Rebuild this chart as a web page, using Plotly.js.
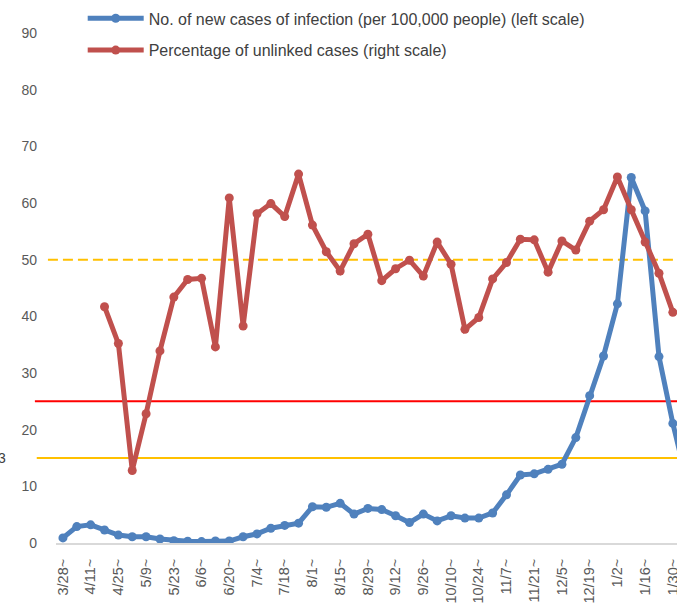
<!DOCTYPE html>
<html>
<head>
<meta charset="utf-8">
<script src="https://cdn.plot.ly/plotly-3.0.1.min.js"></script>
<style>
  html, body { margin: 0; padding: 0; background: #fff; }
  #chart { width: 677px; height: 603px; }
</style>
</head>
<body>
<div id="chart"></div>
<script>
// weekly periods (start date of each week)
const weeks = ['3/28~', '4/4~', '4/11~', '4/18~', '4/25~', '5/2~', '5/9~', '5/16~', '5/23~', '5/30~',
    '6/6~', '6/13~', '6/20~', '6/27~', '7/4~', '7/11~', '7/18~', '7/25~', '8/1~', '8/8~',
    '8/15~', '8/22~', '8/29~', '9/5~', '9/12~', '9/19~', '9/26~', '10/3~', '10/10~', '10/17~',
    '10/24~', '10/31~', '11/7~', '11/14~', '11/21~', '11/28~', '12/5~', '12/12~', '12/19~', '12/26~',
    '1/2~', '1/9~', '1/16~', '1/23~', '1/30~', '2/6~'];

// only every other week gets a label
const tickLabels = ['3/28~', '4/11~', '4/25~', '5/9~', '5/23~', '6/6~', '6/20~', '7/4~', '7/18~', '8/1~',
    '8/15~', '8/29~', '9/12~', '9/26~', '10/10~', '10/24~', '11/7~', '11/21~', '12/5~', '12/19~',
    '1/2~', '1/16~', '1/30~'];

// new cases per 100,000 people (left scale)
const newCases = [0.9, 2.9, 3.2, 2.3, 1.4, 1.1, 1.1, 0.7, 0.4, 0.3,
    0.25, 0.35, 0.35, 1.1, 1.6, 2.6, 3.1, 3.5, 6.4, 6.3,
    7.0, 5.1, 6.1, 5.9, 4.8, 3.6, 5.1, 3.9, 4.8, 4.4,
    4.4, 5.3, 8.5, 12.0, 12.2, 13.0, 13.9, 18.6, 26.0, 33.0,
    42.2, 64.5, 58.6, 32.9, 21.1, 11];

// percentage of unlinked cases (right scale)
const unlinkedPct = [null, null, null, 41.7, 35.2, 12.8, 22.8, 33.9, 43.4, 46.5,
    46.7, 34.6, 60.9, 38.3, 58.1, 59.9, 57.6, 65.1, 56.1, 51.4,
    48.0, 52.8, 54.5, 46.3, 48.4, 49.9, 47.1, 53.1, 49.2, 37.7,
    39.8, 46.6, 49.5, 53.6, 53.5, 47.8, 53.3, 51.7, 56.8, 58.8,
    64.6, 58.8, 53.1, 47.6, 40.7, null];

// reference levels
const dashedLevel = 50;
const redLevel = 25;
const orangeLevel = 15;

const fontFamily = '"Liberation Sans", Arial, sans-serif';

const data = [
    {
        x: weeks,
        y: newCases,
        name: 'No. of new cases of infection (per 100,000 people) (left scale)',
        type: 'scatter',
        mode: 'lines+markers',
        line: { color: '#4F81BD', width: 5 },
        marker: { color: '#4F81BD', size: 9 },
        cliponaxis: true
    },
    {
        x: weeks,
        y: unlinkedPct,
        name: 'Percentage of unlinked cases (right scale)',
        type: 'scatter',
        mode: 'lines+markers',
        line: { color: '#C0504D', width: 5 },
        marker: { color: '#C0504D', size: 9 },
        cliponaxis: true,
        legendgroup: 'b'
    }
];

const hline = (level, color, dash, x0) => ({
    type: 'line',
    xref: 'paper', yref: 'y',
    x0: x0, x1: 1,
    y0: level, y1: level,
    line: { color: color, width: 2, dash: dash },
    layer: 'below'
});

const layout = {
    width: 677,
    height: 603,
    margin: { l: 56, r: 0, t: 33, b: 60 },
    paper_bgcolor: '#ffffff',
    plot_bgcolor: '#ffffff',
    font: { family: fontFamily, size: 14, color: '#595959' },
    showlegend: true,
    legend: {
        x: 0.043, y: 1.062,
        xanchor: 'left', yanchor: 'top',
        bgcolor: 'rgba(0,0,0,0)',
        font: { family: fontFamily, size: 16, color: '#404040' },
        itemwidth: 56,
        traceorder: 'grouped',
        tracegroupgap: 8
    },
    xaxis: {
        type: 'category',
        range: [-0.5, 44.3],
        tickvals: tickLabels,
        ticktext: tickLabels,
        tickangle: -90,
        showgrid: false,
        zeroline: false,
        showline: true,
        linecolor: '#D9D9D9',
        linewidth: 2,
        ticks: '',
        ticklabelstandoff: 8,
        tickfont: { family: fontFamily, size: 14.5, color: '#595959' }
    },
    yaxis: {
        range: [0, 90],
        dtick: 10,
        showgrid: false,
        zeroline: false,
        showline: false,
        ticks: '',
        ticklabelstandoff: 18,
        tickfont: { family: fontFamily, size: 14, color: '#595959' }
    },
    shapes: [
        hline(dashedLevel, '#FFC000', '10px,5px', -0.013),
        hline(redLevel, '#FF0000', 'solid', -0.034),
        hline(orangeLevel, '#FFC000', 'solid', -0.031)
    ],
    annotations: [
        {
            text: '3', xref: 'paper', yref: 'y',
            x: -0.078, y: orangeLevel, xanchor: 'right',
            showarrow: false,
            font: { family: fontFamily, size: 14, color: '#404040' }
        }
    ]
};

Plotly.newPlot('chart', data, layout, { displayModeBar: false, staticPlot: true });
</script>
</body>
</html>
